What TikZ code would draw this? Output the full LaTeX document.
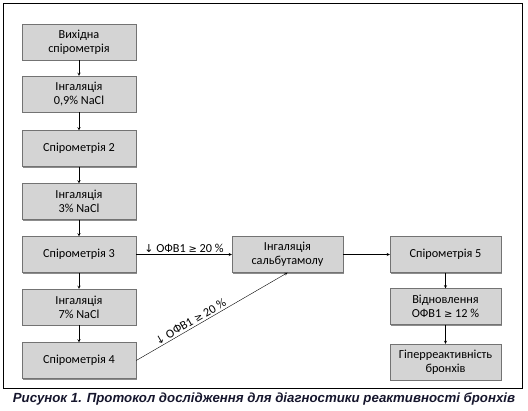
\documentclass[tikz,border=0pt]{standalone}
\usepackage{fontspec}
\setmainfont{Carlito}
\newfontfamily\capfont{Liberation Sans}
\newfontfamily\symfont{DejaVu Sans}
\usetikzlibrary{arrows,shadows}
\definecolor{capcol}{RGB}{22,22,45}
\newcommand{\geqsym}{{\symfont\fontsize{10}{12}\selectfont ≥}}
\newcommand{\downsym}{{\symfont\fontsize{11}{12}\selectfont ↓}}

\begin{document}
\begin{tikzpicture}[
    x=1bp,y=-1bp,
    flow/.style={->,>=stealth,thin},
    box/.style={rectangle,draw=black!55,fill=black!17,minimum width=114bp,minimum height=36bp,
        align=center,inner sep=2bp,font=\fontsize{12.3}{14}\selectfont,
        drop shadow={shadow xshift=1bp,shadow yshift=-1bp,fill=black!45,opacity=1}},
    cbox/.style={box,minimum width=111bp},
    cond/.style={font=\fontsize{12.3}{14}\selectfont,inner sep=2bp}
]
\useasboundingbox (0,0) rectangle (528,410);

% Frame
\draw[thick] (3,3) rectangle (522,388);

% Left column
\node[box] (base) at (79,42) {Вихідна\\спірометрія};
\node[box] (inh1) at (79,94) {Інгаляція\\0,9\% NaCl};
\node[box] (spir2) at (79,148.5) {Спірометрія 2};
\node[box] (inh2) at (79,201.5) {Інгаляція\\3\% NaCl};
\node[box] (spir3) at (79,254.5) {Спірометрія 3};
\node[box] (inh3) at (79,307) {Інгаляція\\7\% NaCl};
\node[box] (spir4) at (79,360.5) {Спірометрія 4};

% Middle and right
\node[cbox] (salb) at (287.5,254.5) {Інгаляція\\сальбутамолу};
\node[cbox] (spir5) at (445.5,254.5) {Спірометрія 5};
\node[cbox] (recov) at (445.5,306.5) {Відновлення\\ОФВ1 \geqsym{} 12 \%};
\node[cbox] (hyper) at (445.5,362) {Гіперреактивність\\бронхів};

% Arrows
\draw[flow] (base) -- (inh1);
\draw[flow] (inh1) -- (spir2);
\draw[flow] (spir2) -- (inh2);
\draw[flow] (inh2) -- (spir3);
\draw[flow] (spir3) -- (inh3);
\draw[flow] (inh3) -- (spir4);
\draw[flow] (spir3) -- node[above,cond] {\downsym{} ОФВ1 \geqsym{} 20 \%} (salb);
\draw[flow] (spir4.east) -- node[pos=0.38,above,sloped,cond] {\downsym{} ОФВ1 \geqsym{} 20 \%} (salb.south);
\draw[flow] (salb) -- (spir5);
\draw[flow] (spir5) -- (recov);
\draw[flow] (recov) -- (hyper);

% Caption
\node[font=\capfont\bfseries\itshape\fontsize{13.3}{15}\selectfont,text=capcol] (caption) at (264,399)
    {Рисунок 1. Протокол дослідження для діагностики реактивності бронхів};
\end{tikzpicture}
\end{document}
